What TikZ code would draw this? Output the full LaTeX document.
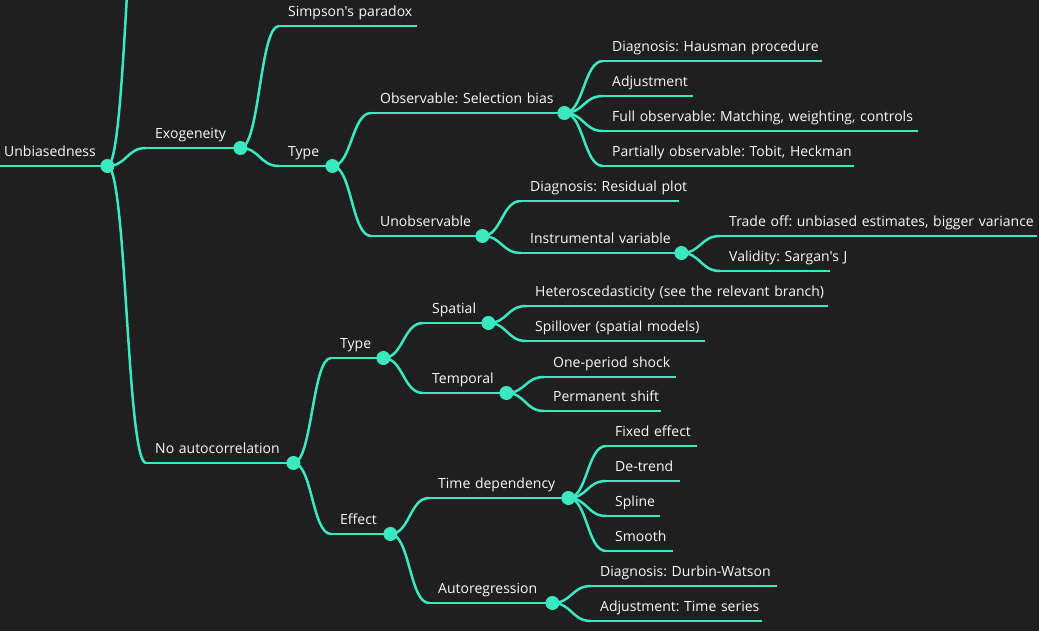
\documentclass[tikz,border=0pt]{standalone}
\usepackage{fontspec}
\setmainfont{Open Sans}[Ligatures=TeXOff]
\usepackage{xcolor}
\usepackage{tikz}
\usetikzlibrary{calc}
\definecolor{bgc}{HTML}{1F1F1F}
\definecolor{teal}{HTML}{3BE8C0}
\definecolor{txt}{HTML}{FAFAFA}
\frenchspacing
\tikzstyle{topic} = [anchor=south west, text width=#1pt, align=left, inner xsep=0pt, inner ysep=9pt, text depth=0pt, text=txt, font=\fontsize{14}{16}\selectfont, execute at begin node={\hspace*{9pt}\hbox\bgroup}, execute at end node={\egroup}]
\tikzstyle{edge} = [teal, line width=2.5pt]
\tikzstyle{link} = [to path={.. controls ($(\tikztostart)!.5!(\tikztostart -| \tikztotarget)$) and ($(\tikztotarget)!.5!(\tikztotarget -| \tikztostart)$) .. (\tikztotarget)}]

\begin{document}
\begin{tikzpicture}[x=1pt, y=-1pt]
   \useasboundingbox (0,0) rectangle (1039,631);
   \clip (0,0) rectangle (1039,631);
   \fill[bgc] (0,0) rectangle (1039,631);
   % root and first level
   \node (root) [topic=112] at (-5,166) {Unbiasedness};
   \coordinate (up) at (146,-166);
   \node (exo) [topic=94] at (146,148) {Exogeneity};
   \node (noauto) [topic=147] at (146,463) {No autocorrelation};
   % exogeneity branch
   \node (simpson) [topic=138] at (279,26) {Simpson's paradox};
   \node (type1) [topic=53] at (279,166) {Type};
   \node (obs) [topic=193] at (371,113) {Observable: Selection bias};
   \node (unobs) [topic=111] at (371,236) {Unobservable};
   \node (hausman) [topic=219] at (603,61) {Diagnosis: Hausman procedure};
   \node (adj) [topic=90] at (603,96) {Adjustment};
   \node (full) [topic=315] at (603,131) {Full observable: Matching, weighting, controls};
   \node (partial) [topic=251] at (603,166) {Partially observable: Tobit, Heckman};
   \node (resid) [topic=158] at (521,201) {Diagnosis: Residual plot};
   \node (iv) [topic=160] at (521,253) {Instrumental variable};
   \node (trade) [topic=317] at (720,236) {Trade off: unbiased estimates, bigger variance};
   \node (valid) [topic=110] at (720,271) {Validity: Sargan's J};
   % autocorrelation branch
   \node (type2) [topic=52] at (331,358) {Type};
   \node (effect) [topic=59] at (331,534) {Effect};
   \node (spatial) [topic=65] at (423,323) {Spatial};
   \node (temporal) [topic=83] at (423,393) {Temporal};
   \node (hetero) [topic=302] at (526,306) {Heteroscedasticity (see the relevant branch)};
   \node (spill) [topic=179] at (526,341) {Spillover (spatial models)};
   \node (oneper) [topic=132] at (544,377) {One-period shock};
   \node (perm) [topic=117] at (544,411) {Permanent shift};
   \node (timedep) [topic=139] at (429,498) {Time dependency};
   \node (autoreg) [topic=123] at (429,603) {Autoregression};
   \node (fixed) [topic=91] at (606,446) {Fixed effect};
   \node (detrend) [topic=74] at (606,481) {De-trend};
   \node (spline) [topic=54] at (606,516) {Spline};
   \node (smooth) [topic=67] at (606,551) {Smooth};
   \node (durbin) [topic=186] at (591,586) {Diagnosis: Durbin-Watson};
   \node (adjts) [topic=171] at (591,621) {Adjustment: Time series};
   % underlines
   \foreach \n in {root,exo,noauto,simpson,type1,obs,unobs,hausman,adj,full,partial,resid,iv,trade,valid,
                   type2,effect,spatial,temporal,hetero,spill,oneper,perm,timedep,autoreg,fixed,detrend,spline,smooth,durbin,adjts}
      \draw [edge] (\n.south west) -- (\n.south east);
   % links
   \draw [edge] (root.south east) to[link] (up);
   \foreach \a/\b in {root/exo,root/noauto,exo/simpson,exo/type1,type1/obs,type1/unobs,
                      obs/hausman,obs/adj,obs/full,obs/partial,unobs/resid,unobs/iv,iv/trade,iv/valid,
                      noauto/type2,noauto/effect,type2/spatial,type2/temporal,spatial/hetero,spatial/spill,
                      temporal/oneper,temporal/perm,effect/timedep,effect/autoreg,
                      timedep/fixed,timedep/detrend,timedep/spline,timedep/smooth,autoreg/durbin,autoreg/adjts}
      \draw [edge] (\a.south east) to[link] (\b.south west);
   % dots
   \foreach \n in {root,exo,noauto,type1,obs,unobs,iv,type2,effect,spatial,temporal,timedep,autoreg}
      \fill [teal] (\n.south east) circle (7);
\end{tikzpicture}
\end{document}
